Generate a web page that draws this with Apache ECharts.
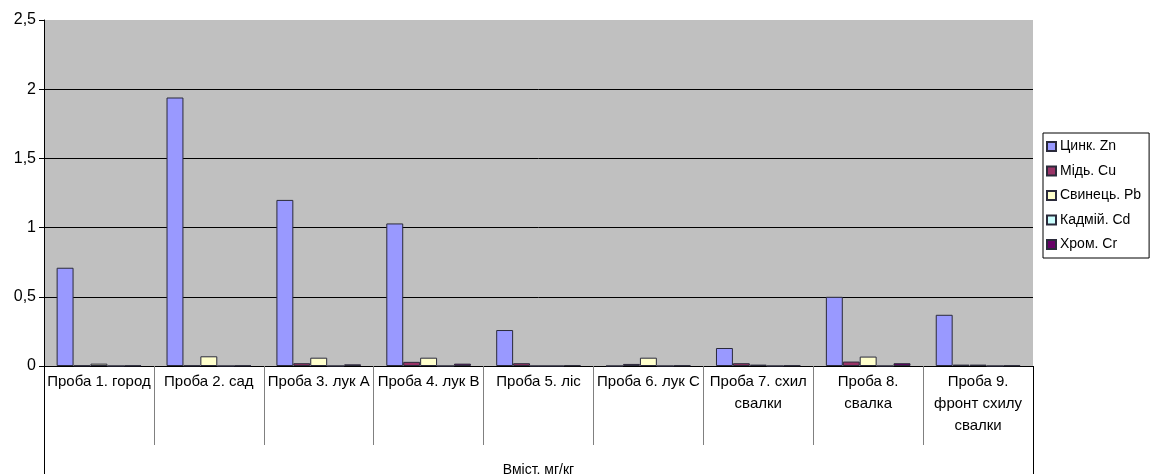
<!DOCTYPE html>
<html>
<head>
<meta charset="utf-8">
<script src="https://cdn.jsdelivr.net/npm/echarts@6/dist/echarts.min.js"></script>
<style>
  html, body { margin: 0; padding: 0; background: #fff; }
  #chart { width: 1156px; height: 474px; }
</style>
</head>
<body>
<div id="chart"></div>
<script>
// Sampling sites (axis categories)
const categories = [
  'Проба 1. город',
  'Проба 2. сад',
  'Проба 3. лук А',
  'Проба 4. лук В',
  'Проба 5. ліс',
  'Проба 6. лук С',
  'Проба 7. схил\nсвалки',
  'Проба 8.\nсвалка',
  'Проба 9.\nфронт схилу\nсвалки'
];

// Heavy-metal content per sample, mg/kg
const zinc    = [0.71, 1.94, 1.20, 1.03, 0.26, 0.00, 0.13, 0.50, 0.37];
const copper  = [0.003, 0.003, 0.02, 0.03, 0.02, 0.015, 0.02, 0.032, 0.01];
const lead    = [0.017, 0.07, 0.06, 0.06, 0.00, 0.06, 0.01, 0.068, 0.01];
const cadmium = [0, 0, 0, 0, 0, 0, 0, 0, 0];
const chrome  = [0.003, 0.003, 0.012, 0.017, 0.005, 0.004, 0.004, 0.02, 0.004];

const seriesNames = ['Цинк. Zn', 'Мідь. Cu', 'Свинець. Pb', 'Кадмій. Cd', 'Хром. Cr'];
const seriesColors = ['#9999FF', '#993366', '#FFFFCC', '#CCFFFF', '#660066'];
const seriesData = [zinc, copper, lead, cadmium, chrome];

const axisTitle = 'Вміст, мг/кг';
const yTicks = { min: 0, max: 2.5, step: 0.5 };

const font = 'Arial, "Liberation Sans", sans-serif';

const chart = echarts.init(document.getElementById('chart'), null, { renderer: 'canvas' });

chart.setOption({
  animation: false,
  backgroundColor: '#ffffff',
  textStyle: { fontFamily: font, color: '#000' },
  grid: {
    left: 44, right: 123, top: 20, bottom: 108,
    containLabel: false,
    outerBoundsMode: 'none',
    show: true, backgroundColor: '#C0C0C0', borderWidth: 0
  },
  legend: {
    orient: 'vertical',
    left: 1043, top: 133,
    width: 106,
    padding: [6, 8, 6, 3],
    borderColor: '#000', borderWidth: 1,
    backgroundColor: '#fff',
    itemWidth: 9, itemHeight: 9, itemGap: 9.5,
    icon: 'rect',
    textStyle: { fontFamily: font, fontSize: 14, color: '#000', lineHeight: 15, padding: [0, 0, 0, -1] },
    data: seriesNames
  },
  xAxis: [
    {
      type: 'category',
      data: categories,
      position: 'bottom',
      axisLine: { show: true, lineStyle: { color: '#000', width: 1 } },
      axisTick: { show: true, interval: 0, length: 79, lineStyle: { color: '#808080', width: 1 } },
      axisLabel: {
        interval: 0, margin: 5, fontFamily: font, fontSize: 15, color: '#000',
        lineHeight: 22, align: 'center'
      },
      splitLine: { show: false }
    },
    {
      type: 'category',
      data: [axisTitle],
      position: 'bottom',
      axisLine: { show: false },
      axisTick: { show: true, interval: 0, length: 110, lineStyle: { color: '#000', width: 1 } },
      axisLabel: { interval: 0, margin: 97, fontFamily: font, fontSize: 14, color: '#000' },
      splitLine: { show: false }
    }
  ],
  yAxis: {
    type: 'value',
    min: yTicks.min, max: yTicks.max, interval: yTicks.step,
    axisLine: { show: true, lineStyle: { color: '#000', width: 1 } },
    axisTick: { show: true, length: 5, lineStyle: { color: '#000' } },
    axisLabel: {
      margin: 8, fontFamily: font, fontSize: 16, color: '#000',
      formatter: v => String(v).replace('.', ',')
    },
    splitLine: { show: true, showMaxLine: false, lineStyle: { color: '#000', width: 1 } }
  },
  series: seriesNames.map((name, i) => ({
    name: name,
    type: 'bar',
    xAxisIndex: 0,
    data: seriesData[i],
    barGap: '0%',
    barCategoryGap: '23%',
    itemStyle: { color: seriesColors[i], borderColor: '#2a2a3a', borderWidth: 1 }
  }))
});
</script>
</body>
</html>
